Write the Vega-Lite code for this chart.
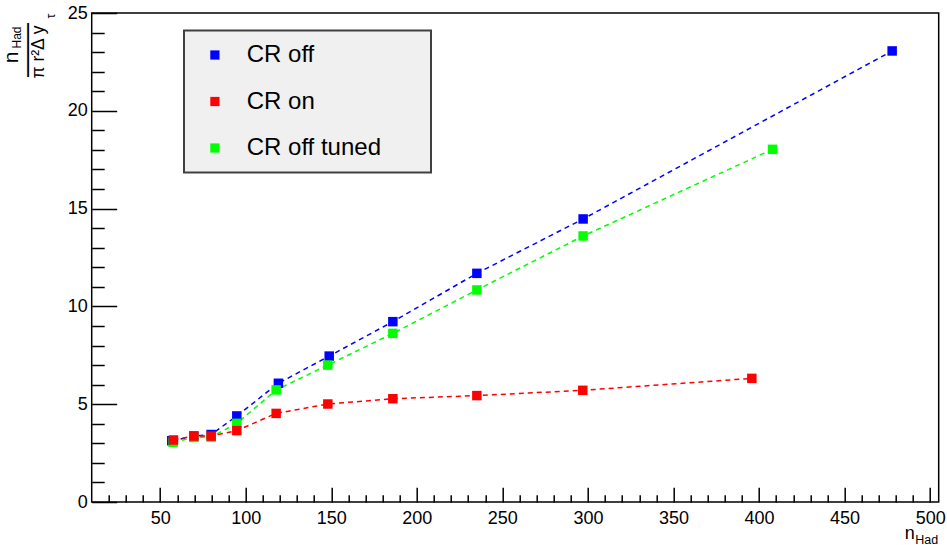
{
  "$schema": "https://vega.github.io/schema/vega-lite/v6.json",
  "width": 847,
  "height": 489,
  "autosize": {"type": "none"},
  "padding": {"left": 91.7, "top": 13, "right": 8.3, "bottom": 43},
  "background": "white",
  "data": {
    "values": [
      {"series": "CR off", "x": 56.8, "y": 3.13},
      {"series": "CR off", "x": 69.7, "y": 3.37},
      {"series": "CR off", "x": 79.8, "y": 3.45},
      {"series": "CR off", "x": 94.8, "y": 4.4},
      {"series": "CR off", "x": 119.1, "y": 6.07},
      {"series": "CR off", "x": 148.8, "y": 7.46},
      {"series": "CR off", "x": 186.0, "y": 9.22},
      {"series": "CR off", "x": 235.1, "y": 11.69},
      {"series": "CR off", "x": 297.2, "y": 14.47},
      {"series": "CR off", "x": 477.8, "y": 23.06},
      {"series": "CR off tuned", "x": 57.6, "y": 3.05},
      {"series": "CR off tuned", "x": 69.7, "y": 3.3},
      {"series": "CR off tuned", "x": 79.8, "y": 3.32},
      {"series": "CR off tuned", "x": 94.8, "y": 4.02},
      {"series": "CR off tuned", "x": 117.8, "y": 5.73},
      {"series": "CR off tuned", "x": 148.0, "y": 7.0},
      {"series": "CR off tuned", "x": 186.0, "y": 8.62},
      {"series": "CR off tuned", "x": 235.1, "y": 10.84},
      {"series": "CR off tuned", "x": 297.2, "y": 13.6},
      {"series": "CR off tuned", "x": 407.9, "y": 18.03},
      {"series": "CR on", "x": 57.8, "y": 3.17},
      {"series": "CR on", "x": 69.7, "y": 3.37},
      {"series": "CR on", "x": 79.8, "y": 3.37},
      {"series": "CR on", "x": 94.8, "y": 3.65},
      {"series": "CR on", "x": 117.8, "y": 4.53},
      {"series": "CR on", "x": 148.0, "y": 5.01},
      {"series": "CR on", "x": 186.0, "y": 5.28},
      {"series": "CR on", "x": 235.1, "y": 5.44},
      {"series": "CR on", "x": 297.0, "y": 5.71},
      {"series": "CR on", "x": 395.8, "y": 6.32}
    ]
  },
  "layer": [
    {
      "mark": {"type": "line", "strokeDash": [5, 4], "strokeWidth": 1.5},
      "encoding": {
        "x": {"field": "x", "type": "quantitative",
          "scale": {"domain": [10, 505], "nice": false, "zero": false},
          "axis": {"orient": "bottom", "values": [50, 100, 150, 200, 250, 300, 350, 400, 450, 500],
            "tickSize": -14.7, "labelPadding": 22,
            "title": "n", "titleFontSize": 18, "titleX": 812.5, "titleY": 36, "titleAlign": "left", "titleBaseline": "alphabetic", "titleAngle": 0}},
        "y": {"field": "y", "type": "quantitative",
          "scale": {"domain": [0, 25], "nice": false, "zero": false},
          "axis": {"orient": "left", "values": [0, 5, 10, 15, 20, 25],
            "tickSize": -25, "labelPadding": 29.5,
            "title": "n", "titleFontSize": 21, "titleAngle": 270, "titleX": -74.2, "titleY": 44, "titleAlign": "center", "titleBaseline": "alphabetic"}},
        "color": {"field": "series", "type": "nominal",
          "scale": {"domain": ["CR off", "CR on", "CR off tuned"], "range": ["#0000ff", "#ff0000", "#00ff00"]}}
      }
    },
    {
      "mark": {"type": "point", "shape": "square", "filled": true, "size": 90, "opacity": 1},
      "encoding": {
        "x": {"field": "x", "type": "quantitative",
          "axis": {"orient": "bottom", "values": [20, 30, 40, 60, 70, 80, 90, 110, 120, 130, 140, 160, 170, 180, 190, 210, 220, 230, 240, 260, 270, 280, 290, 310, 320, 330, 340, 360, 370, 380, 390, 410, 420, 430, 440, 460, 470, 480, 490],
            "tickSize": -7.3, "labels": false,
            "title": "Had", "titleFontSize": 12.5, "titleX": 823, "titleY": 41, "titleAlign": "left", "titleBaseline": "alphabetic", "titleAngle": 0}},
        "y": {"field": "y", "type": "quantitative",
          "axis": {"orient": "left", "values": [1, 2, 3, 4, 6, 7, 8, 9, 11, 12, 13, 14, 16, 17, 18, 19, 21, 22, 23, 24],
            "tickSize": -12.5, "labels": false,
            "title": "Had", "titleFontSize": 12, "titleAngle": 270, "titleX": -71.2, "titleY": 24, "titleAlign": "center", "titleBaseline": "alphabetic"}},
        "color": {"field": "series", "type": "nominal",
          "scale": {"domain": ["CR off", "CR on", "CR off tuned"], "range": ["#0000ff", "#ff0000", "#00ff00"]},
          "legend": {"orient": "none", "legendX": 92.3, "legendY": 17.5, "direction": "vertical",
            "title": ".", "titleOrient": "right", "titleFontSize": 2, "titleColor": "transparent", "titlePadding": 36,
            "padding": 12.5, "symbolOffset": 6.4, "labelOffset": 19.8, "rowPadding": 22.5,
            "symbolType": "square", "symbolSize": 85, "symbolStrokeWidth": 0, "symbolDash": [],
            "labelFontSize": 24, "labelFont": "Liberation Sans", "labelColor": "black",
            "fillColor": "#f0f0f0", "strokeColor": "#404040"}}
      }
    },
    {
      "mark": {"type": "point", "opacity": 0},
      "encoding": {
        "x": {"field": "x", "type": "quantitative",
          "axis": {"orient": "bottom", "ticks": false, "labels": false,
            "title": "π r²Δ y", "titleFontSize": 17.5, "titleAngle": 270, "titleX": -48.2, "titleY": -450.5, "titleAlign": "center", "titleBaseline": "alphabetic"}},
        "y": {"field": "y", "type": "quantitative",
          "axis": {"orient": "left", "ticks": false, "labels": false,
            "title": "———", "titleFontSize": 18, "titleFontWeight": "bold", "titleAngle": 270, "titleX": -63.7, "titleY": 36.5, "titleAlign": "center", "titleBaseline": "middle"}}
      }
    },
    {
      "mark": {"type": "point", "opacity": 0},
      "encoding": {
        "x": {"field": "x", "type": "quantitative",
          "axis": {"orient": "bottom", "ticks": false, "labels": false,
            "title": "τ", "titleFontSize": 12, "titleAngle": 270, "titleX": -36.7, "titleY": -486.5, "titleAlign": "center", "titleBaseline": "alphabetic"}},
        "y": {"field": "y", "type": "quantitative", "axis": null}
      }
    }
  ],
  "resolve": {"axis": {"x": "independent", "y": "independent"}},
  "config": {
    "font": "Liberation Sans",
    "view": {"stroke": "black", "strokeWidth": 1.5},
    "axis": {"grid": false, "domain": false, "labelFont": "Liberation Sans", "labelFontSize": 18, "labelColor": "black",
      "tickColor": "black", "tickWidth": 1.5, "titleColor": "black", "titleFont": "Liberation Sans", "titleFontWeight": "normal", "titlePadding": 0},
    "legend": {"strokeWidth": 2}
  }
}
